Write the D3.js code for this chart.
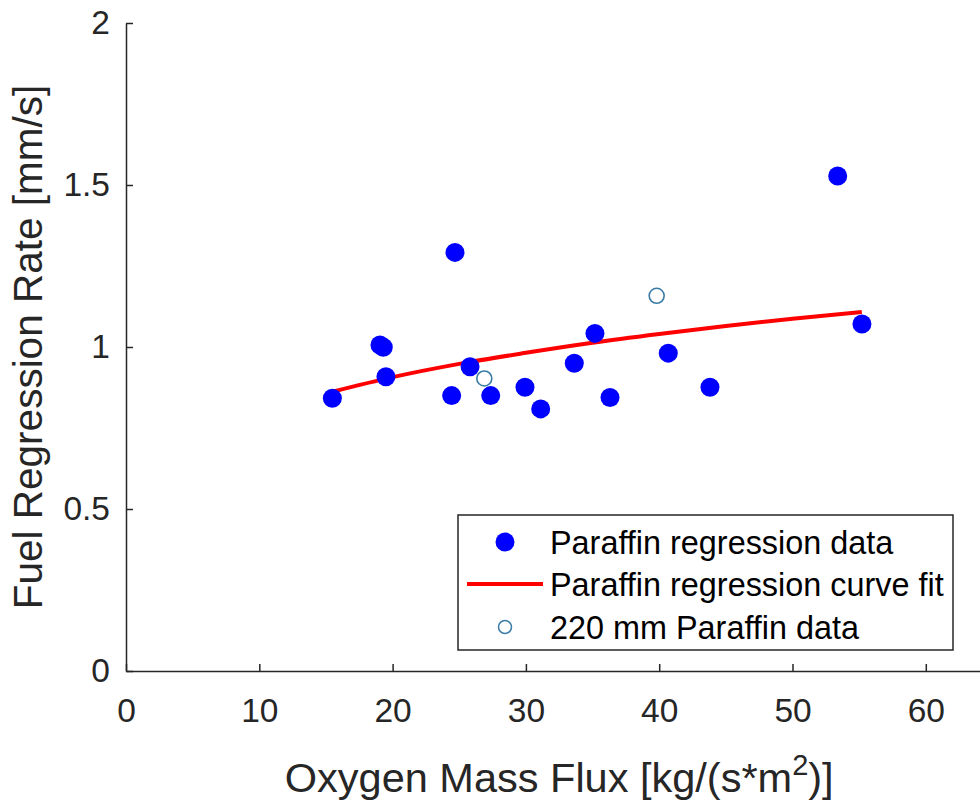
<!DOCTYPE html>
<html>
<head>
<meta charset="utf-8">
<script src="https://cdn.jsdelivr.net/npm/d3@7"></script>
<style>
  body { margin: 0; background: #fff; }
  svg { display: block; }
</style>
</head>
<body>
<div id="chart"></div>
<script>
// data
var paraffinFlux = [15.48, 19.05, 19.30, 19.50, 24.43, 24.68, 25.81, 27.36, 29.93, 31.11, 33.63, 35.18, 36.31, 40.68, 43.81, 53.39, 55.21];
var paraffinRate = [0.842, 1.006, 0.999, 0.908, 0.850, 1.292, 0.939, 0.850, 0.876, 0.809, 0.950, 1.042, 0.844, 0.981, 0.876, 1.528, 1.071];

var fitFlux = [15.5, 20, 25, 30, 35, 40, 45, 50, 55.2];
var fitRate = [0.862, 0.907, 0.948, 0.982, 1.013, 1.040, 1.065, 1.087, 1.108];

var flux220 = [26.88, 39.81];
var rate220 = [0.903, 1.158];

var xTicks = [0, 10, 20, 30, 40, 50, 60];
var yTicks = [0, 0.5, 1, 1.5, 2];
var legendLabels = ["Paraffin regression data", "Paraffin regression curve fit", "220 mm Paraffin data"];

var W = 980, H = 806;
var margin = {top: 23, left: 126, bottom: 135};
var axisColor = "#262626",
	font = "Arial, 'Liberation Sans', Helvetica, sans-serif";

var svg = d3.select("#chart")
	.append("svg")
	.attr("width", W)
	.attr("height", H)
	.style("background", "#fff");

var x = d3.scaleLinear().domain([0, 65]).range([margin.left, margin.left + 65 * 13.33]);
var y = d3.scaleLinear().domain([0, 2]).range([H - margin.bottom, margin.top]);

// axes, MATLAB style: ticks point inward
var xAxis = svg.append("g")
	.attr("transform", "translate(0," + y(0) + ")")
	.call(d3.axisBottom(x).tickValues(xTicks).tickSizeInner(-7).tickSizeOuter(0).tickPadding(27));

var yAxis = svg.append("g")
	.attr("transform", "translate(" + x(0) + ",0)")
	.call(d3.axisLeft(y).tickValues(yTicks).tickFormat(d3.format("")).tickSizeInner(-7).tickSizeOuter(0).tickPadding(16));

[xAxis, yAxis].forEach(function(a){
	a.select(".domain").attr("stroke", axisColor).attr("stroke-width", 1.5);
	a.selectAll(".tick line").attr("stroke", axisColor).attr("stroke-width", 1.5);
	a.selectAll(".tick text")
		.attr("fill", axisColor)
		.attr("font-size", "33.5px")
		.attr("font-family", font);
});

// axis labels
svg.append("text")
	.attr("transform", "translate(42," + y(1) + ") rotate(-90)")
	.attr("text-anchor", "middle")
	.attr("font-size", "40.5px")
	.attr("font-family", font)
	.attr("fill", axisColor)
	.text("Fuel Regression Rate [mm/s]");

var xl = svg.append("text")
	.attr("x", (x(0) + x(65)) / 2)
	.attr("y", 792)
	.attr("text-anchor", "middle")
	.attr("font-size", "41.5px")
	.attr("font-family", font)
	.attr("fill", axisColor);
xl.append("tspan").text("Oxygen Mass Flux [kg/(s*m");
xl.append("tspan").attr("font-size", "29px").attr("dy", -17).text("2");
xl.append("tspan").attr("dy", 17).text(")]");

// curve fit
var fitData = fitFlux.map(function(d, i){ return {x: d, y: fitRate[i]}; });
svg.append("path")
	.datum(fitData)
	.attr("fill", "none")
	.attr("stroke", "#FF0000")
	.attr("stroke-width", 4)
	.attr("d", d3.line()
		.x(function(d){ return x(d.x); })
		.y(function(d){ return y(d.y); })
		.curve(d3.curveMonotoneX));

// paraffin data
svg.append("g")
	.selectAll("circle")
	.data(paraffinFlux)
	.enter()
	.append("circle")
	.attr("cx", function(d){ return x(d); })
	.attr("cy", function(d, i){ return y(paraffinRate[i]); })
	.attr("r", 9.5)
	.attr("fill", "#0000FF");

// 220 mm data
svg.append("g")
	.selectAll("circle")
	.data(flux220)
	.enter()
	.append("circle")
	.attr("cx", function(d){ return x(d); })
	.attr("cy", function(d, i){ return y(rate220[i]); })
	.attr("r", 7.5)
	.attr("fill", "none")
	.attr("stroke", "#3a7ca5")
	.attr("stroke-width", 1.6);

// legend
var lg = svg.append("g");
lg.append("rect")
	.attr("x", 458).attr("y", 515)
	.attr("width", 495).attr("height", 135)
	.attr("fill", "#fff")
	.attr("stroke", axisColor)
	.attr("stroke-width", 1.5);

var rowY = [542, 584, 627];
lg.append("circle").attr("cx", 505).attr("cy", rowY[0]).attr("r", 9.5).attr("fill", "#0000FF");
lg.append("line")
	.attr("x1", 467).attr("x2", 543)
	.attr("y1", rowY[1]).attr("y2", rowY[1])
	.attr("stroke", "#FF0000").attr("stroke-width", 4);
lg.append("circle").attr("cx", 505).attr("cy", rowY[2]).attr("r", 6.5)
	.attr("fill", "none").attr("stroke", "#3a7ca5").attr("stroke-width", 1.5);

lg.selectAll("text.lab")
	.data(legendLabels)
	.enter()
	.append("text")
	.attr("class", "lab")
	.attr("x", 550)
	.attr("y", function(d, i){ return rowY[i]; })
	.attr("dy", "0.36em")
	.attr("font-size", "32.4px")
	.attr("font-family", font)
	.attr("fill", "#000")
	.text(function(d){ return d; });
</script>
</body>
</html>
